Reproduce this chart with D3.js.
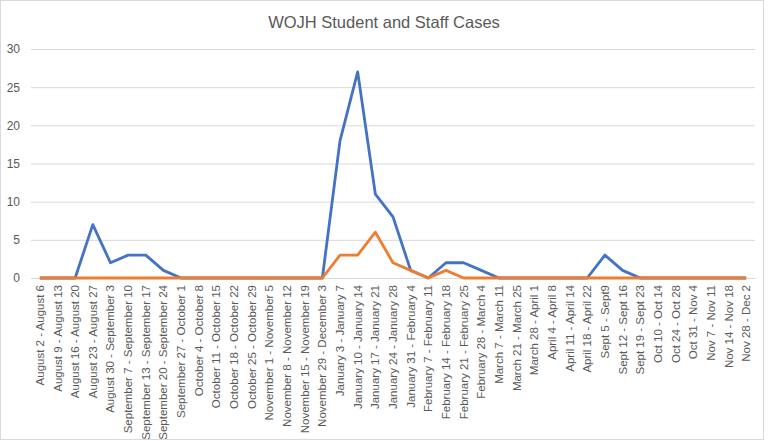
<!DOCTYPE html>
<html>
<head>
<meta charset="utf-8">
<script src="https://cdn.jsdelivr.net/npm/d3@7"></script>
<style>
  body { margin: 0; background: #fff; }
  svg { display: block; font-family: "Liberation Sans", Arial, sans-serif; }
</style>
</head>
<body>
<div id="chart"></div>
<script>
const weeks = [
  "August 2 - August 6", "August 9 - August 13", "August 16 - August 20",
  "August 23 - August 27", "August 30 - September 3", "September 7 - September 10",
  "September 13 - September 17", "September 20 - September 24", "September 27 - October 1",
  "October 4 - October 8", "October 11 - October 15", "October 18 - October 22",
  "October 25 - October 29", "November 1 - November 5", "November 8 - November 12",
  "November 15 - November 19", "November 29 - December 3", "January 3 - January 7",
  "January 10 - January 14", "January 17 - January 21", "January 24 - January 28",
  "January 31 - February 4", "February 7 - February 11", "February 14 - February 18",
  "February 21 - February 25", "February 28 - March 4", "March 7 - March 11",
  "March 21 - March 25", "March 28 - April 1", "April 4 - April 8",
  "April 11 - April 14", "April 18 - April 22", "Sept 5 - Sept9",
  "Sept 12 - Sept 16", "Sept 19 - Sept 23", "Oct 10 - Oct 14",
  "Oct 24 - Oct 28", "Oct 31 - Nov 4", "Nov 7 - Nov 11",
  "Nov 14 - Nov 18", "Nov 28 - Dec 2"
];

const studentCases = [
  0, 0, 0, 7, 2, 3, 3, 1, 0, 0, 0, 0, 0, 0, 0, 0, 0, 18, 27, 11, 8,
  1, 0, 2, 2, 1, 0, 0, 0, 0, 0, 0, 3, 1, 0, 0, 0, 0, 0, 0, 0
];

const staffCases = [
  0, 0, 0, 0, 0, 0, 0, 0, 0, 0, 0, 0, 0, 0, 0, 0, 0, 3, 3, 6, 2,
  1, 0, 1, 0, 0, 0, 0, 0, 0, 0, 0, 0, 0, 0, 0, 0, 0, 0, 0, 0
];

const yTicks = [0, 5, 10, 15, 20, 25, 30];

const W = 769, H = 441;
const margin = { top: 49, right: 14, bottom: 163, left: 31 };
const width = W - margin.left - margin.right;
const height = H - margin.top - margin.bottom;

const svg = d3.select("#chart").append("svg")
  .attr("width", W).attr("height", H);

svg.append("rect")
  .attr("x", 0.5).attr("y", 0.5)
  .attr("width", W - 6).attr("height", H - 2)
  .attr("fill", "#fff").attr("stroke", "#d9d9d9");

svg.append("text")
  .attr("x", 384).attr("y", 28)
  .attr("text-anchor", "middle")
  .attr("fill", "#595959")
  .attr("font-size", 16.5)
  .text("WOJH Student and Staff Cases");

const g = svg.append("g").attr("transform", `translate(${margin.left},${margin.top})`);

const x = d3.scaleBand().domain(weeks).range([0, width]);
const y = d3.scaleLinear().domain([0, 30]).range([height, 0]);

// gridlines
g.append("g")
  .call(d3.axisLeft(y).tickValues(yTicks).tickSize(-width).tickFormat(d3.format("d")))
  .call((a) => a.select(".domain").remove())
  .call((a) => a.selectAll(".tick line").attr("stroke", "#d9d9d9"))
  .call((a) => a.selectAll(".tick text")
    .attr("x", -11).attr("fill", "#595959").attr("font-size", 12)
    .attr("font-family", "Liberation Sans, Arial, sans-serif"));

// x axis labels
g.append("g")
  .attr("transform", `translate(0,${height})`)
  .call(d3.axisBottom(x).tickSize(0))
  .call((a) => a.select(".domain").attr("stroke", "#d9d9d9"))
  .call((a) => a.selectAll(".tick text")
    .attr("transform", "rotate(-90)")
    .attr("text-anchor", "end")
    .attr("x", -7).attr("y", 0).attr("dy", "0.35em")
    .attr("fill", "#595959").attr("font-size", 11.5)
    .attr("font-family", "Liberation Sans, Arial, sans-serif"));

const line = d3.line()
  .x((d, i) => x(weeks[i]) + x.bandwidth() / 2)
  .y((d) => y(d));

g.append("path")
  .datum(studentCases)
  .attr("fill", "none")
  .attr("stroke", "#4472c4")
  .attr("stroke-width", 2.8)
  .attr("stroke-linejoin", "round")
  .attr("d", line);

g.append("path")
  .datum(staffCases)
  .attr("fill", "none")
  .attr("stroke", "#ed7d31")
  .attr("stroke-width", 2.8)
  .attr("stroke-linejoin", "round")
  .attr("d", line);
</script>
</body>
</html>
